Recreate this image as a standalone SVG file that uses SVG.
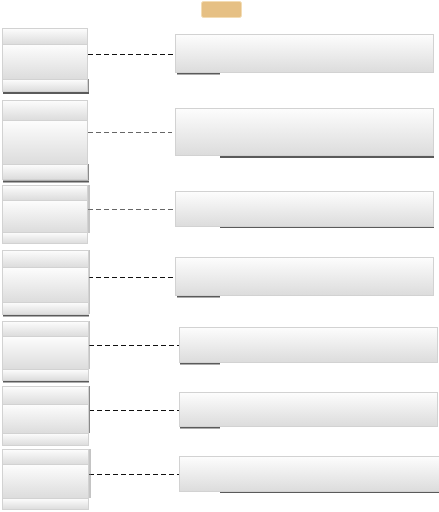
<svg xmlns="http://www.w3.org/2000/svg" width="439" height="512" viewBox="0 0 439 512">
<defs>
<linearGradient id="g" x1="0" y1="0" x2="0" y2="1">
<stop offset="0" stop-color="#fdfdfd"/>
<stop offset="1" stop-color="#dcdcdc"/>
</linearGradient>
</defs>
<style>
.c{fill:url(#g);stroke:#d2d2d2;stroke-width:1}
.sh{stroke:#5a5a5a;stroke-width:2;fill:none}
.sr{stroke:#8a8a8a;stroke-width:1;fill:none}
.d{stroke:#111;stroke-width:1;stroke-dasharray:5,3;fill:none}
.dg{stroke:#666;stroke-width:1.2;stroke-dasharray:5,3;fill:none}
</style>
<rect x="201.5" y="1.5" width="40" height="16" rx="2" fill="#e6c084" stroke="#f3dcb4" stroke-width="1"/>
<g id="connectors">
<line class="d" x1="88" y1="54.5" x2="175" y2="54.5"/>
<line class="dg" x1="88" y1="132.5" x2="172" y2="132.5"/>
<line class="dg" x1="88" y1="209.5" x2="175" y2="209.5"/>
<line class="d" x1="88" y1="277.5" x2="175" y2="277.5"/>
<line class="d" x1="89" y1="345.5" x2="179" y2="345.5"/>
<line class="d" x1="89" y1="410.5" x2="179" y2="410.5"/>
<line class="d" x1="89" y1="474.5" x2="179" y2="474.5"/>
</g>
<g id="L1">
<line class="sh" x1="3" y1="93" x2="89" y2="93"/>
<line class="sr" x1="88.5" y1="79" x2="88.5" y2="92"/>
<rect class="c" x="2.5" y="28.5" width="85" height="16"/>
<rect class="c" x="2.5" y="44.5" width="85" height="35"/>
<rect class="c" x="2.5" y="79.5" width="85" height="12"/>
</g>
<g id="L2">
<line class="sh" x1="3" y1="181.5" x2="89" y2="181.5"/>
<line class="sr" x1="88.5" y1="164" x2="88.5" y2="180"/>
<rect class="c" x="2.5" y="100.5" width="85" height="20"/>
<rect class="c" x="2.5" y="120.5" width="85" height="44"/>
<rect class="c" x="2.5" y="164.5" width="85" height="15"/>
</g>
<g id="L3">
<line class="sr" x1="89" y1="185" x2="89" y2="233"/>
<rect class="c" x="2.5" y="185.5" width="85" height="15"/>
<rect class="c" x="2.5" y="200.5" width="85" height="32"/>
<rect class="c" x="2.5" y="232.5" width="85" height="11"/>
</g>
<g id="L4">
<line class="sh" x1="3" y1="315.5" x2="89" y2="315.5"/>
<line class="sr" x1="89" y1="250" x2="89" y2="314"/>
<rect class="c" x="2.5" y="250.5" width="86" height="17"/>
<rect class="c" x="2.5" y="267.5" width="86" height="35"/>
<rect class="c" x="2.5" y="302.5" width="86" height="12"/>
</g>
<g id="L5">
<line class="sh" x1="3" y1="381.5" x2="89" y2="381.5"/>
<line class="sr" x1="89" y1="321" x2="89" y2="369"/>
<rect class="c" x="2.5" y="321.5" width="86" height="15"/>
<rect class="c" x="2.5" y="336.5" width="86" height="33"/>
<rect class="c" x="2.5" y="369.5" width="86" height="11"/>
</g>
<g id="L6">
<line class="sr" x1="89.5" y1="386" x2="89.5" y2="433"/>
<rect class="c" x="2.5" y="386.5" width="86" height="18"/>
<rect class="c" x="2.5" y="404.5" width="86" height="29"/>
<rect class="c" x="2.5" y="433.5" width="86" height="12"/>
</g>
<g id="L7">
<line class="sr" x1="90" y1="449" x2="90" y2="498"/>
<rect class="c" x="2.5" y="449.5" width="86" height="15"/>
<rect class="c" x="2.5" y="464.5" width="86" height="34"/>
<rect class="c" x="2.5" y="498.5" width="86" height="11"/>
</g>
<g id="R1">
<line class="sh" x1="177" y1="73.5" x2="220" y2="73.5"/>
<rect class="c" x="175.5" y="34.5" width="258" height="38"/>
</g>
<g id="R2">
<line class="sh" x1="220" y1="157" x2="434" y2="157"/>
<rect class="c" x="175.5" y="108.5" width="258" height="47"/>
</g>
<g id="R3">
<line class="sh" x1="220" y1="227" x2="434" y2="227"/>
<rect class="c" x="175.5" y="191.5" width="258" height="35"/>
</g>
<g id="R4">
<line class="sh" x1="177" y1="296.5" x2="220" y2="296.5"/>
<rect class="c" x="175.5" y="257.5" width="258" height="38"/>
</g>
<g id="R5">
<line class="sh" x1="180" y1="363.5" x2="220" y2="363.5"/>
<rect class="c" x="179.5" y="327.5" width="258" height="35"/>
</g>
<g id="R6">
<line class="sh" x1="180" y1="427.5" x2="220" y2="427.5"/>
<rect class="c" x="179.5" y="392.5" width="258" height="34"/>
</g>
<g id="R7">
<line class="sh" x1="220" y1="492" x2="439" y2="492"/>
<rect class="c" x="179.5" y="456.5" width="260" height="35"/>
</g>
</svg>
